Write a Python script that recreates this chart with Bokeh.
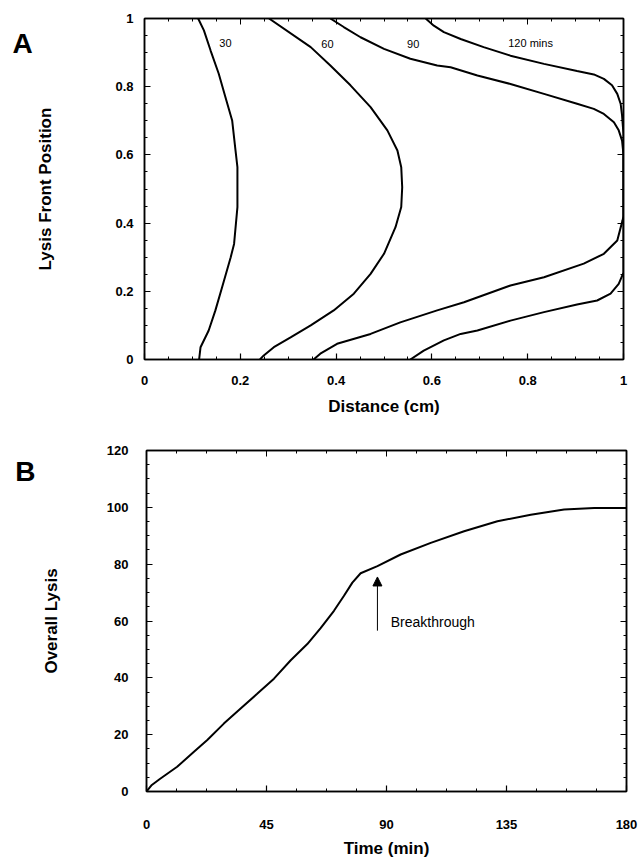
from bokeh.plotting import figure
from bokeh.models import Range1d, FixedTicker, LinearAxis, Label, Arrow, NormalHead
from bokeh.layouts import column, row
from bokeh.embed import file_html
from bokeh.resources import INLINE
from bokeh.core.properties import value

# ---------------- Panel A data (distance in cm vs lysis front position) ----------------
dist_30 = [0.112, 0.124, 0.138, 0.155, 0.169, 0.183, 0.190, 0.194, 0.194, 0.187, 0.180, 0.162, 0.148, 0.134, 0.117, 0.114]
pos_30 = [1.0, 0.965, 0.906, 0.838, 0.769, 0.701, 0.613, 0.564, 0.447, 0.339, 0.300, 0.212, 0.144, 0.085, 0.036, 0.0]

dist_60 = [0.260, 0.347, 0.388, 0.430, 0.472, 0.507, 0.528, 0.536, 0.538, 0.536, 0.524, 0.500, 0.472, 0.437, 0.395, 0.347, 0.305, 0.270, 0.249, 0.241]
pos_60 = [1.0, 0.916, 0.862, 0.804, 0.740, 0.672, 0.613, 0.564, 0.505, 0.447, 0.388, 0.310, 0.251, 0.193, 0.144, 0.100, 0.065, 0.036, 0.012, 0.0]

dist_90 = [0.388, 0.416, 0.451, 0.500, 0.555, 0.611, 0.639, 0.695, 0.764, 0.834, 0.903, 0.938, 0.959, 0.980, 0.990, 0.997, 1.0, 1.0,
           0.998, 0.987, 0.959, 0.917, 0.834, 0.764, 0.667, 0.611, 0.534, 0.472, 0.402, 0.367, 0.353]
pos_90 = [1.0, 0.975, 0.945, 0.911, 0.882, 0.862, 0.857, 0.833, 0.808, 0.779, 0.750, 0.735, 0.720, 0.696, 0.672, 0.642, 0.60, 0.42,
          0.408, 0.349, 0.310, 0.281, 0.241, 0.217, 0.168, 0.144, 0.109, 0.075, 0.046, 0.017, 0.0]

dist_120 = [0.587, 0.604, 0.625, 0.660, 0.708, 0.764, 0.834, 0.903, 0.938, 0.959, 0.976, 0.987, 0.994, 0.997, 1.0, 1.0,
            0.990, 0.973, 0.945, 0.903, 0.834, 0.764, 0.695, 0.660, 0.625, 0.583, 0.555]
pos_120 = [1.0, 0.979, 0.960, 0.940, 0.916, 0.891, 0.867, 0.846, 0.836, 0.823, 0.804, 0.779, 0.750, 0.716, 0.66, 0.255,
           0.222, 0.193, 0.173, 0.161, 0.139, 0.114, 0.085, 0.075, 0.056, 0.026, 0.0]

curve_labels = ["30", "60", "90", "120 mins"]

ticks_a = [0, 0.2, 0.4, 0.6, 0.8, 1]
tick_labels_a = ["0", "0.2", "0.4", "0.6", "0.8", "1"]

# ---------------- Panel B data (time vs overall lysis) ----------------
time_min = [0, 2, 5, 11.5, 17.8, 22.8, 29, 35.3, 41.5, 47.8, 54, 60.3, 65.3, 70.3, 74, 77.2, 80.3, 86.6,
            95.3, 106.6, 119.1, 131.6, 144.1, 156.6, 167.9, 180]
overall_lysis = [0, 2.3, 4.4, 8.7, 14.0, 18.1, 23.9, 29.2, 34.4, 39.7, 46.1, 51.9, 57.5, 63.6, 68.8, 73.5, 76.8, 79.3,
                 83.4, 87.5, 91.6, 95.1, 97.4, 99.2, 99.8, 99.8]

ticks_bx = [0, 45, 90, 135, 180]
ticks_by = [0, 20, 40, 60, 80, 100, 120]

FONT = "Liberation Sans"


def style_axis(ax, standoff, title_standoff):
    ax.axis_line_color = "black"
    ax.axis_line_width = 1.5
    ax.major_tick_in = 6
    ax.major_tick_out = 0
    ax.minor_tick_in = 3
    ax.minor_tick_out = 0
    ax.major_tick_line_color = "black"
    ax.minor_tick_line_color = "black"
    ax.major_tick_line_width = 1.2
    ax.major_label_text_font = FONT
    ax.major_label_text_font_style = "bold"
    ax.major_label_text_font_size = "13px"
    ax.major_label_text_color = "black"
    ax.major_label_standoff = standoff
    ax.axis_label_text_font = FONT
    ax.axis_label_text_font_style = "bold"
    ax.axis_label_text_font_size = "17px"
    ax.axis_label_text_color = "black"
    ax.axis_label_standoff = title_standoff


def mirror_axis(ticker, ticks):
    ax = LinearAxis(ticker=ticker)
    ax.axis_line_color = "black"
    ax.axis_line_width = 1.5
    ax.major_tick_in = 6
    ax.major_tick_out = 0
    ax.minor_tick_in = 3
    ax.minor_tick_out = 0
    ax.major_label_standoff = 0
    ax.major_label_text_font_size = "0px"
    ax.major_label_overrides = {t: "" for t in ticks}
    return ax


def panel_letter(letter, width, height, fx, fy):
    q = figure(width=width, height=height, output_backend="svg", toolbar_location=None,
               x_range=Range1d(0, 1), y_range=Range1d(0, 1),
               x_axis_location=None, y_axis_location=None,
               min_border=0, outline_line_color=None)
    q.grid.visible = False
    q.text(x=[fx], y=[fy], text=[letter], text_font=value(FONT), text_font_size="28px",
           text_font_style="bold", text_align="center", text_baseline="middle", text_color="black")
    return q


# ---------------- Panel A ----------------
minor_a = [i * 0.05 for i in range(21)]
p1 = figure(width=610, height=420, output_backend="svg", toolbar_location=None,
            x_range=Range1d(0, 1), y_range=Range1d(0, 1),
            min_border_left=111, min_border_right=20, min_border_top=18, min_border_bottom=61)
p1.grid.visible = False
p1.outline_line_color = "black"
p1.outline_line_width = 1.5

tk_a = FixedTicker(ticks=ticks_a, minor_ticks=minor_a)
p1.xaxis.ticker = tk_a
p1.yaxis.ticker = tk_a
p1.xaxis.major_label_overrides = dict(zip(ticks_a, tick_labels_a))
p1.yaxis.major_label_overrides = dict(zip(ticks_a, tick_labels_a))
p1.xaxis.axis_label = "Distance (cm)"
p1.yaxis.axis_label = "Lysis Front Position"
style_axis(p1.xaxis[0], 16, 9)
style_axis(p1.yaxis[0], 11, 57)
p1.add_layout(mirror_axis(FixedTicker(ticks=ticks_a, minor_ticks=minor_a), ticks_a), "above")
p1.add_layout(mirror_axis(FixedTicker(ticks=ticks_a, minor_ticks=minor_a), ticks_a), "right")

for xs, ys in [(dist_30, pos_30), (dist_60, pos_60), (dist_90, pos_90), (dist_120, pos_120)]:
    p1.line(xs, ys, line_color="black", line_width=2)

label_pos = [(0.169, 0.927), (0.382, 0.925), (0.561, 0.925), (0.806, 0.927)]
for txt, (lx, ly) in zip(curve_labels, label_pos):
    p1.add_layout(Label(x=lx, y=ly, text=txt, text_font=FONT, text_font_size="11px",
                        text_align="center", text_baseline="middle", text_color="black"))

# ---------------- Panel B ----------------
minor_bx = [i * 11.25 for i in range(17)]
minor_by = [i * 5 for i in range(25)]
p2 = figure(width=607, height=440, output_backend="svg", toolbar_location=None,
            x_range=Range1d(0, 180), y_range=Range1d(0, 120),
            min_border_left=110, min_border_right=17, min_border_top=30, min_border_bottom=68)
p2.grid.visible = False
p2.outline_line_color = "black"
p2.outline_line_width = 1.5

p2.xaxis.ticker = FixedTicker(ticks=ticks_bx, minor_ticks=minor_bx)
p2.yaxis.ticker = FixedTicker(ticks=ticks_by, minor_ticks=minor_by)
p2.xaxis.axis_label = "Time (min)"
p2.yaxis.axis_label = "Overall Lysis"
style_axis(p2.xaxis[0], 28, 7)
style_axis(p2.yaxis[0], 18, 43)
p2.add_layout(mirror_axis(FixedTicker(ticks=ticks_bx, minor_ticks=minor_bx), ticks_bx), "above")
p2.add_layout(mirror_axis(FixedTicker(ticks=ticks_by, minor_ticks=minor_by), ticks_by), "right")

p2.line(time_min, overall_lysis, line_color="black", line_width=2)

p2.add_layout(Arrow(end=NormalHead(size=9, fill_color="black", line_color="black"),
                    x_start=86.6, y_start=56.6, x_end=86.6, y_end=75.5,
                    line_color="black", line_width=1))
p2.add_layout(Label(x=91.6, y=59.6, text="Breakthrough", text_font=FONT, text_font_size="14px",
                    text_align="left", text_baseline="middle", text_color="black"))

letter_a = panel_letter("A", 33, 420, 0.667, 0.927)
letter_b = panel_letter("B", 36, 440, 0.694, 0.939)

layout = column(row(letter_a, p1), row(letter_b, p2))
open("out.html", "w").write(file_html(layout, INLINE))
